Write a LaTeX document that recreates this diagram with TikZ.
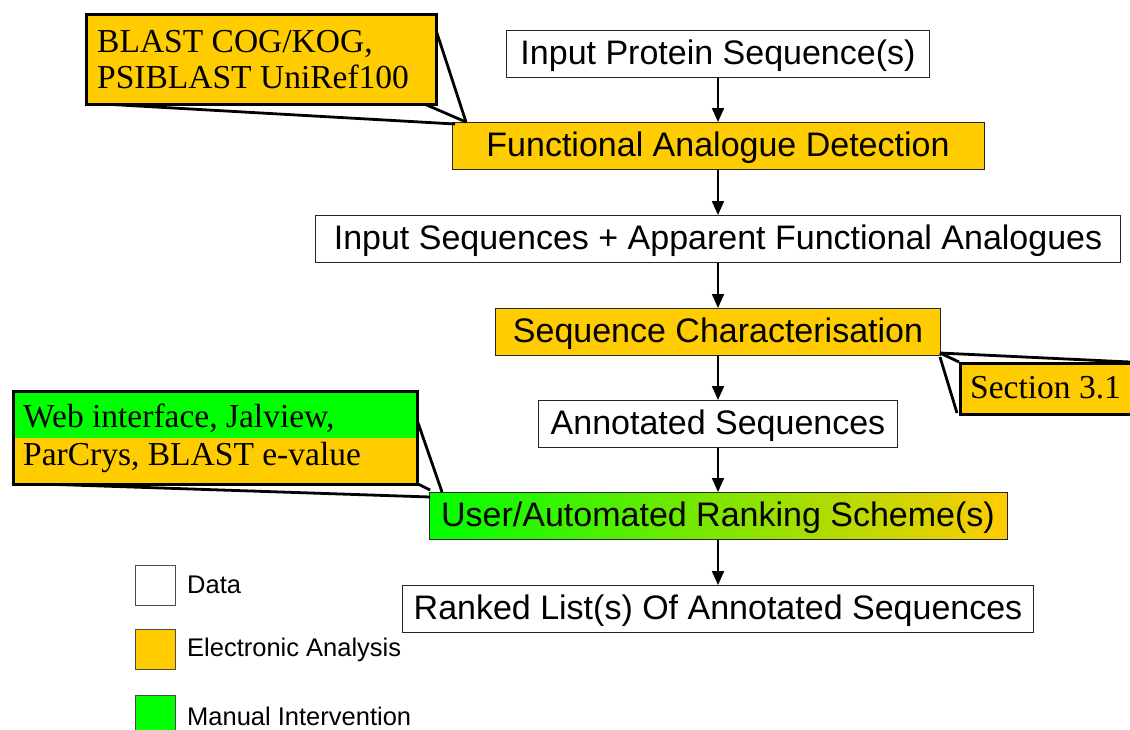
\documentclass[tikz,border=0pt]{standalone}
\usepackage{fontspec}
\setmainfont{Liberation Serif}
\newfontfamily\arial{Liberation Sans}
\usetikzlibrary{arrows.meta}
\definecolor{orng}{HTML}{FFCC00}
\definecolor{grn}{HTML}{00FF00}
\begin{document}
\begin{tikzpicture}[x=1pt,y=-1pt,
  box/.style={draw=black!85, line width=1pt, inner sep=0pt, minimum height=47pt,
    text height=24pt, text depth=3pt, font=\arial\fontsize{34}{40}\selectfont, anchor=north},
  flow/.style={line width=2pt, -{Triangle[length=14pt,width=12pt]}},
  callbox/.style={draw=black, line width=2.8pt, inner sep=0pt, anchor=north west},
  callline/.style={draw=black, line width=2.8pt},
  ctext/.style={font=\fontsize{33.5}{38}\selectfont, anchor=base west, inner sep=0pt},
  legbox/.style={draw=black!70, line width=0.8pt, minimum size=40pt, inner sep=0pt, anchor=north west},
  legtext/.style={font=\arial\fontsize{25.5}{30}\selectfont, anchor=west, inner sep=0pt}]
\useasboundingbox (0,0) rectangle (1130,729);

% flow boxes
\node[box, minimum width=423pt] (b1) at (718,30) {Input Protein Sequence(s)};
\node[box, fill=orng, minimum width=532pt] (b2) at (718,122) {Functional Analogue Detection};
\node[box, minimum width=805pt] (b3) at (718,215) {Input Sequences + Apparent Functional Analogues};
\node[box, fill=orng, minimum width=445pt] (b4) at (718,308) {Sequence Characterisation};
\node[box, minimum width=359pt] (b5) at (718,400) {Annotated Sequences};
\node[box, left color=grn, right color=orng, minimum width=578pt] (b6) at (718,492) {User/Automated Ranking Scheme(s)};
\node[box, minimum width=631pt] (b7) at (718,585) {Ranked List(s) Of Annotated Sequences};

\draw[flow] (b1.south) -- (b2.north);
\draw[flow] (b2.south) -- (b3.north);
\draw[flow] (b3.south) -- (b4.north);
\draw[flow] (b4.south) -- (b5.north);
\draw[flow] (b5.south) -- (b6.north);
\draw[flow] (b6.south) -- (b7.north);

% callout 1
\coordinate (c1a) at (435,27);
\coordinate (c1b) at (422,103);
\coordinate (c1c) at (85,103);
\coordinate (t1) at (466,122);
\coordinate (t1b) at (455,124);
\draw[callline] (c1a) -- (t1);
\draw[callline] (c1b) -- (t1);
\draw[callline] (c1c) -- (t1b);
\node[callbox, fill=orng, minimum width=350pt, minimum height=90pt] (c1) at (85,13) {};
\node[ctext] (c1t1) at (97,52) {BLAST COG/KOG,};
\node[ctext] (c1t2) at (97,88) {PSIBLAST UniRef100};

% callout 2
\coordinate (t2) at (940,353);
\coordinate (t2b) at (940,357);
\coordinate (c2a) at (1130,362);
\coordinate (c2b) at (959,362);
\coordinate (c2c) at (957,413);
\draw[callline] (t2) -- (c2a);
\draw[callline] (t2) -- (c2b);
\draw[callline] (t2b) -- (c2c);
\node[callbox, fill=orng, minimum width=190pt, minimum height=51pt] (c2) at (959,362) {};
\node[ctext] (c2t) at (970,398) {Section 3.1};

% callout 3
\coordinate (t3) at (442,492);
\coordinate (t3b) at (430,490);
\coordinate (t3c) at (430,497);
\coordinate (c3a) at (416,417);
\coordinate (c3b) at (416,483);
\coordinate (c3c) at (12,483);
\draw[callline] (c3a) -- (t3);
\draw[callline] (c3b) -- (t3b);
\draw[callline] (c3c) -- (t3c);
\fill[grn] (12,390) rectangle (416,438);
\fill[orng] (12,438) rectangle (416,483);
\node[callbox, minimum width=404pt, minimum height=93pt] (c3) at (12,390) {};
\node[ctext] (c3t1) at (23,427) {Web interface, Jalview,};
\node[ctext] (c3t2) at (23,465) {ParCrys, BLAST e-value};

% legend
\node[legbox, fill=white] (l1) at (135,565) {};
\node[legbox, fill=orng] (l2) at (135,629) {};
\node[legbox, fill=grn] (l3) at (135,695) {};
\node[legtext] (l1t) at (187,585) {Data};
\node[legtext] (l2t) at (187,650) {Electronic Analysis};
\node[legtext] (l3t) at (187,716) {Manual Intervention};
\end{tikzpicture}
\end{document}
